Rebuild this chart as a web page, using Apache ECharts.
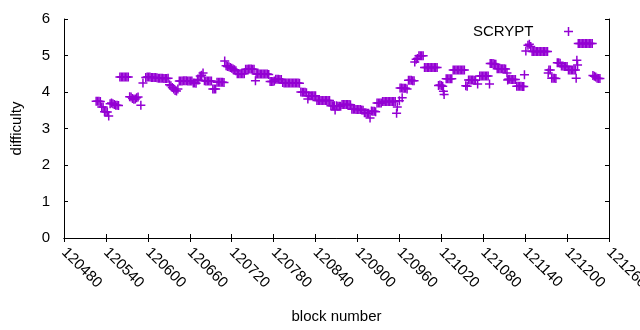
<!DOCTYPE html>
<html>
<head>
<meta charset="utf-8">
<script src="https://cdn.jsdelivr.net/npm/echarts@6/dist/echarts.min.js"></script>
<style>
  html, body { margin: 0; padding: 0; background: #fff; }
  #chart { width: 640px; height: 330px; }
</style>
</head>
<body>
<div id="chart"></div>
<script>
// block numbers and the SCRYPT difficulty read at each one (rows line up)
const blockNumbers = [
  120526, 120528, 120530, 120532, 120534, 120536, 120538, 120540, 120542, 120544,
  120546, 120548, 120550, 120552, 120554, 120556, 120558,
  120560, 120562, 120564, 120566, 120568, 120570, 120572,
  120574, 120576, 120578, 120580, 120582, 120584, 120586, 120590, 120593,
  120597, 120599, 120601, 120603, 120605, 120607, 120609, 120611, 120613,
  120615, 120617, 120619, 120621, 120623, 120625, 120627, 120629,
  120631, 120633, 120635, 120637, 120639, 120641, 120643,
  120645, 120647, 120649, 120651, 120653, 120655, 120657, 120659, 120661, 120663,
  120665, 120667, 120669, 120671, 120673, 120675, 120677, 120679,
  120681, 120683, 120685, 120687, 120689, 120691, 120693, 120695, 120697,
  120699, 120701, 120703, 120705, 120707, 120709, 120710, 120712,
  120714, 120716, 120718, 120720, 120722, 120724, 120726,
  120728, 120730, 120732, 120734, 120736, 120738,
  120740, 120742, 120744, 120746, 120748, 120750, 120752, 120754,
  120755, 120757, 120759, 120761, 120763, 120765, 120767, 120769, 120771, 120773,
  120775, 120777, 120779, 120781, 120783, 120785, 120787, 120789, 120791,
  120793, 120795, 120797, 120799, 120801, 120803, 120805, 120807, 120809, 120811, 120813, 120815, 120817,
  120819, 120821, 120823, 120825, 120827, 120829,
  120830, 120832, 120834, 120836, 120838, 120840,
  120842, 120844, 120846, 120848, 120850, 120852, 120854, 120856, 120858, 120860,
  120862, 120864, 120866, 120867, 120868, 120870, 120872, 120874, 120876,
  120878, 120880, 120882, 120884, 120886, 120888, 120890,
  120892, 120894, 120896, 120898, 120900, 120902, 120904, 120906, 120908,
  120910, 120912, 120914, 120916, 120918,
  120920, 120922, 120924, 120926, 120928, 120930, 120932, 120934,
  120936, 120938, 120940, 120942, 120944, 120946, 120948, 120950, 120952, 120954,
  120956, 120957, 120960, 120964,
  120961, 120963, 120965, 120967, 120969, 120971,
  120973, 120975, 120977, 120979, 120981, 120982,
  120984, 120986, 120988, 120990, 120992, 120994,
  120996, 120998, 121000, 121002, 121004, 121006, 121008, 121010, 121012, 121014,
  121016, 121018, 121020, 121022, 121023, 121024,
  121027, 121029, 121031, 121033, 121035,
  121037, 121039, 121041, 121043, 121045, 121047, 121049, 121051, 121053,
  121055, 121057, 121059, 121061, 121063, 121065, 121067, 121069, 121072,
  121075, 121077, 121079, 121081, 121083, 121085, 121087, 121089,
  121090, 121092, 121094, 121096, 121098,
  121100, 121102, 121104, 121106, 121108, 121110, 121112, 121114, 121115,
  121116, 121118, 121120, 121122, 121124, 121126,
  121128, 121130, 121132, 121134, 121136, 121138, 121139,
  121141, 121144, 121146, 121148,
  121150, 121152, 121154, 121156, 121158, 121160, 121162, 121164, 121166, 121168, 121170, 121172,
  121173, 121174, 121176, 121178, 121180, 121182, 121184,
  121186, 121188, 121190, 121192, 121194, 121196, 121198, 121200,
  121202, 121204, 121206, 121208, 121210, 121212, 121213, 121214, 121215,
  121216, 121218, 121220, 121222, 121224, 121226, 121228, 121230, 121232, 121234, 121236,
  121237, 121239, 121241, 121243, 121245, 121247
];
const difficulty = [
  3.75, 3.75, 3.75, 3.74, 3.59, 3.59, 3.46, 3.45, 3.45, 3.34,
  3.68, 3.70, 3.68, 3.66, 3.64, 3.64, 3.63,
  4.41, 4.41, 4.41, 4.41, 4.41, 4.41, 4.41,
  3.87, 3.86, 3.82, 3.80, 3.81, 3.84, 3.86, 3.64, 4.25,
  4.40, 4.41, 4.41, 4.41, 4.40, 4.40, 4.40, 4.40, 4.39,
  4.38, 4.38, 4.38, 4.38, 4.37, 4.37, 4.37, 4.38,
  4.20, 4.17, 4.12, 4.08, 4.04, 4.03, 4.08,
  4.30, 4.30, 4.30, 4.31, 4.31, 4.31, 4.30, 4.30, 4.30, 4.30,
  4.25, 4.25, 4.24, 4.33, 4.33, 4.44, 4.46, 4.52,
  4.31, 4.30, 4.30, 4.30, 4.30, 4.30, 4.08, 4.08, 4.08,
  4.27, 4.27, 4.27, 4.27, 4.27, 4.26, 4.85, 4.72,
  4.70, 4.69, 4.67, 4.65, 4.63, 4.61, 4.58,
  4.50, 4.50, 4.50, 4.50, 4.50, 4.50,
  4.62, 4.62, 4.63, 4.63, 4.63, 4.62, 4.62, 4.31,
  4.49, 4.49, 4.49, 4.49, 4.49, 4.49, 4.49, 4.49, 4.49, 4.48,
  4.29, 4.29, 4.29, 4.30, 4.35, 4.35, 4.35, 4.34, 4.34,
  4.26, 4.25, 4.25, 4.25, 4.25, 4.25, 4.25, 4.25, 4.25, 4.25, 4.25, 4.25, 4.24,
  4.00, 3.99, 3.99, 3.99, 3.98, 3.81,
  3.90, 3.90, 3.90, 3.90, 3.90, 3.90,
  3.77, 3.77, 3.77, 3.77, 3.77, 3.77, 3.77, 3.77, 3.77, 3.77,
  3.62, 3.62, 3.62, 3.62, 3.51, 3.62, 3.61, 3.61, 3.61,
  3.66, 3.66, 3.66, 3.66, 3.66, 3.66, 3.65,
  3.53, 3.53, 3.53, 3.52, 3.52, 3.52, 3.52, 3.51, 3.50,
  3.43, 3.43, 3.42, 3.42, 3.29,
  3.48, 3.47, 3.47, 3.46, 3.70, 3.70, 3.70, 3.70,
  3.74, 3.74, 3.74, 3.74, 3.74, 3.74, 3.74, 3.74, 3.74, 3.74,
  3.42, 3.59, 3.76, 3.84,
  4.11, 4.11, 4.10, 4.10, 4.10, 4.08,
  4.32, 4.32, 4.32, 4.31, 4.31, 4.82,
  4.90, 4.92, 4.99, 4.99, 4.99, 4.99,
  4.67, 4.67, 4.67, 4.67, 4.67, 4.67, 4.67, 4.67, 4.67, 4.67,
  4.18, 4.19, 4.18, 4.16, 4.02, 3.93,
  4.36, 4.36, 4.36, 4.36, 4.36,
  4.60, 4.60, 4.60, 4.60, 4.60, 4.60, 4.60, 4.60, 4.60,
  4.17, 4.16, 4.33, 4.33, 4.33, 4.33, 4.32, 4.32, 4.22,
  4.44, 4.44, 4.44, 4.44, 4.44, 4.44, 4.44, 4.22,
  4.78, 4.78, 4.78, 4.77, 4.76,
  4.64, 4.64, 4.64, 4.64, 4.64, 4.64, 4.63, 4.52, 4.33,
  4.35, 4.35, 4.34, 4.34, 4.34, 4.34,
  4.16, 4.16, 4.16, 4.16, 4.15, 4.15, 4.47,
  5.12, 5.28, 5.31, 5.25,
  5.11, 5.11, 5.11, 5.11, 5.11, 5.11, 5.11, 5.11, 5.11, 5.11, 5.11, 5.11,
  4.52, 4.60, 4.60, 4.38, 4.38, 4.38, 4.37,
  4.80, 4.80, 4.79, 4.71, 4.71, 4.70, 4.70, 4.70,
  4.60, 4.60, 4.60, 4.60, 4.60, 4.60, 4.38, 4.87, 4.74,
  5.33, 5.33, 5.33, 5.33, 5.33, 5.33, 5.33, 5.33, 5.33, 5.33, 5.33,
  4.45, 4.43, 4.41, 4.38, 4.37, 4.37
];
const seriesName = "SCRYPT";

const points = blockNumbers.map((b, i) => [b, difficulty[i]]);
const plus = "path://M0,7.5h18v3h-18z M7.5,0h3v18h-3z";
const font = "Liberation Sans";

const chart = echarts.init(document.getElementById("chart"));
chart.setOption({
  animation: false,
  textStyle: { fontFamily: font },
  grid: { left: 64, right: 31, top: 19, bottom: 92, outerBoundsMode: "none", containLabel: false },
  legend: {
    data: [seriesName],
    right: 67,
    top: 24,
    padding: 0,
    align: "right",
    itemWidth: 60,
    itemHeight: 9,
    icon: plus,
    textStyle: { fontFamily: font, fontSize: 15, color: "#000" }
  },
  xAxis: [
    {
      type: "value",
      min: 120480,
      max: 121260,
      interval: 60,
      name: "block number",
      nameLocation: "middle",
      nameGap: 71,
      nameTextStyle: { fontFamily: font, fontSize: 15, color: "#000" },
      axisLine: { lineStyle: { color: "#000", width: 1 } },
      axisTick: { inside: true, length: 4, lineStyle: { color: "#000" } },
      axisLabel: {
        rotate: -45, margin: 12, fontSize: 15, color: "#000", fontFamily: font,
        formatter: (v) => String(v)
      },
      splitLine: { show: false }
    },
    {
      type: "value",
      position: "top",
      min: 120480,
      max: 121260,
      interval: 60,
      axisLine: { lineStyle: { color: "#000", width: 1 } },
      axisTick: { inside: true, length: 4, lineStyle: { color: "#000" } },
      axisLabel: { show: false },
      splitLine: { show: false }
    }
  ],
  yAxis: [
    {
      type: "value",
      min: 0,
      max: 6,
      interval: 1,
      name: "difficulty",
      nameLocation: "middle",
      nameGap: 40,
      nameTextStyle: { fontFamily: font, fontSize: 15, color: "#000" },
      axisLine: { show: true, lineStyle: { color: "#000", width: 1 } },
      axisTick: { show: true, inside: true, length: 4, lineStyle: { color: "#000" } },
      axisLabel: { margin: 14, fontSize: 15, color: "#000", fontFamily: font },
      splitLine: { show: false }
    },
    {
      type: "value",
      position: "right",
      min: 0,
      max: 6,
      interval: 1,
      axisLine: { show: true, lineStyle: { color: "#000", width: 1 } },
      axisTick: { show: true, inside: true, length: 4, lineStyle: { color: "#000" } },
      axisLabel: { show: false },
      splitLine: { show: false }
    }
  ],
  series: [
    {
      name: seriesName,
      type: "scatter",
      symbol: plus,
      symbolSize: 9,
      itemStyle: { color: "#9400d3", opacity: 1 },
      data: points
    }
  ]
});
</script>
</body>
</html>
